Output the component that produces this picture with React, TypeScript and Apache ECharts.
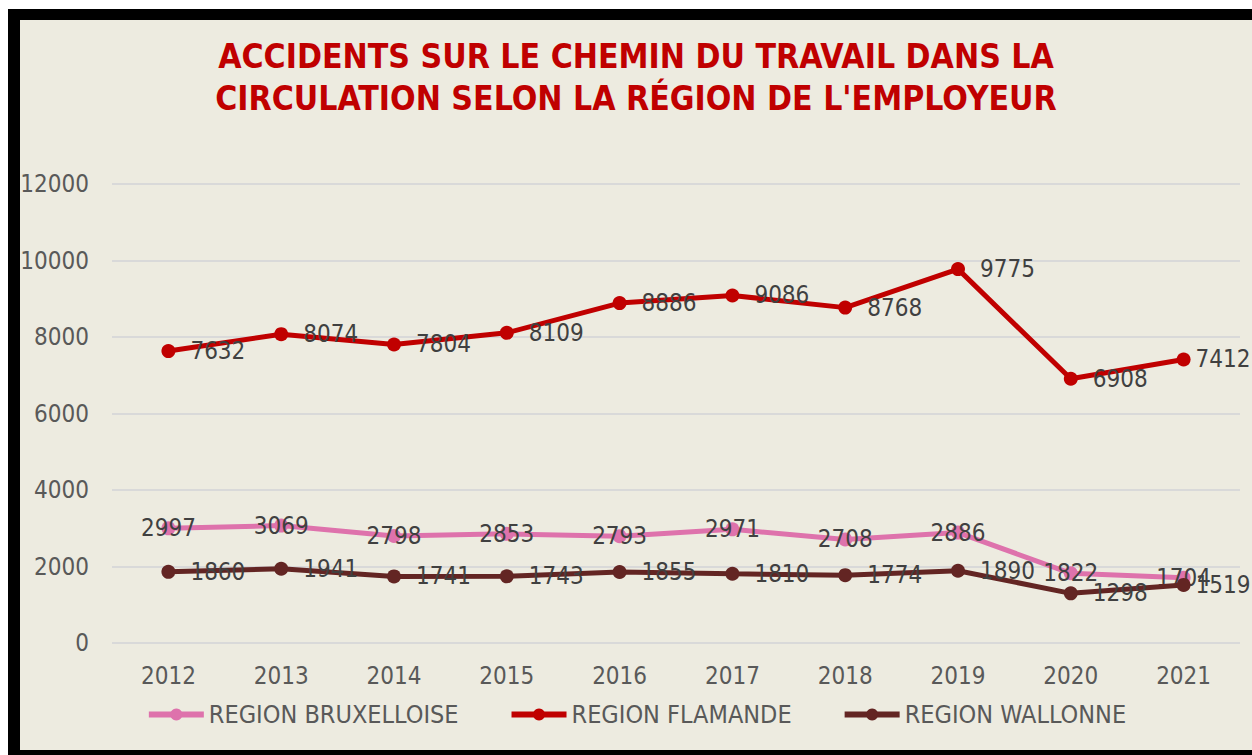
import React, { useEffect, useRef } from "react";
import * as echarts from "echarts";

const years = ["2012", "2013", "2014", "2015", "2016", "2017", "2018", "2019", "2020", "2021"];
const bruxelles = [2997, 3069, 2798, 2853, 2793, 2971, 2708, 2886, 1822, 1704];
const flamande = [7632, 8074, 7804, 8109, 8886, 9086, 8768, 9775, 6908, 7412];
const wallonne = [1860, 1941, 1741, 1743, 1855, 1810, 1774, 1890, 1298, 1519];
const seriesNames = ["REGION BRUXELLOISE", "REGION FLAMANDE", "REGION WALLONNE"];
const titleText = "ACCIDENTS SUR LE CHEMIN DU TRAVAIL DANS LA\nCIRCULATION SELON LA RÉGION DE L'EMPLOYEUR";

const FONT = "'DejaVu Sans Condensed', 'DejaVu Sans', sans-serif";

export default function App() {
  const ref = useRef<HTMLDivElement>(null);
  useEffect(() => {
    if (!ref.current) return;
    const chart = echarts.init(ref.current, null, { renderer: "svg" });
    const labelStyle = { fontFamily: FONT, fontSize: 24, color: "#404040" };
    const mk = (name: string, data: number[], color: string, pos: "right" | "inside", z: number) => ({
      name,
      type: "line",
      data: data.map((v, i) =>
        pos === "right" && i === data.length - 1 ? { value: v, label: { distance: 5 } } : v
      ),
      symbol: "circle",
      symbolSize: 14,
      z,
      lineStyle: { color, width: 5 },
      itemStyle: { color },
      label: {
        show: true,
        position: pos,
        distance: 15,
        ...labelStyle,
      },
    });
    chart.setOption({
      animation: false,
      backgroundColor: "#EDEBE0",
      title: {
        text: titleText,
        left: "center",
        top: 10,
        textStyle: {
          fontFamily: FONT,
          fontWeight: "bold",
          fontSize: 33.5,
          lineHeight: 42,
          color: "#C00000",
        },
      },
      legend: {
        bottom: 18,
        left: "center",
        itemWidth: 55,
        itemHeight: 15,
        itemGap: 50,
        lineStyle: { width: 6 },
        textStyle: { fontFamily: FONT, fontSize: 25, color: "#595959" },
        data: seriesNames,
      },
      grid: { left: 92, right: 12, top: 164, bottom: 107, containLabel: false, outerBoundsMode: "none" },
      xAxis: {
        type: "category",
        data: years,
        axisLine: { show: false },
        axisTick: { show: false },
        axisLabel: { fontFamily: FONT, fontSize: 24, color: "#595959", margin: 21 },
      },
      yAxis: {
        type: "value",
        min: 0,
        max: 12000,
        interval: 2000,
        axisLine: { show: false },
        axisTick: { show: false },
        axisLabel: {
          fontFamily: FONT,
          fontSize: 24,
          color: "#595959",
          margin: 23,
          formatter: (v: number) => String(v),
        },
        splitLine: { lineStyle: { color: "#D9D9D9", width: 2 } },
      },
      series: [
        mk(seriesNames[0], bruxelles, "#DE72AC", "inside", 2),
        mk(seriesNames[1], flamande, "#C00000", "right", 3),
        mk(seriesNames[2], wallonne, "#632523", "right", 4),
      ],
    });
    return () => chart.dispose();
  }, []);
  return (
    <div style={{ position: "fixed", inset: 0, overflow: "hidden", background: "#fff" }}>
      <div style={{ position: "absolute", left: 8, top: 9, width: 1300, height: 800, background: "#000" }}>
        <div ref={ref} style={{ position: "absolute", left: 12, top: 11, width: 1232, height: 730 }} />
      </div>
    </div>
  );
}
